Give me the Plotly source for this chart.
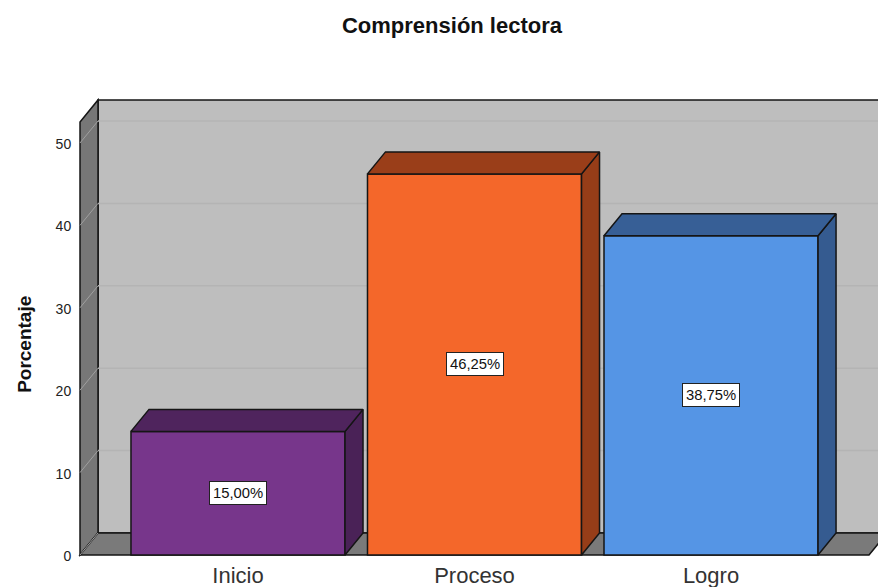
import plotly.graph_objects as go

categories = ["Inicio", "Proceso", "Logro"]
values = [15.00, 46.25, 38.75]
y_ticks = [0, 10, 20, 30, 40, 50]
front_colors = ["#77368B", "#F4672A", "#5595E5"]
side_colors = ["#4A2257", "#963D18", "#355B90"]
top_colors = ["#4F245D", "#9A3E19", "#375F96"]

positions = [0, 1, 2]
BAR_W = 0.905
DX = 18 / 236.5     # depth of the 3D box in x units
DY = 22 / 8.24      # depth of the 3D box in y units
X0, X1 = -0.668, 2.668
Y_TOP = 52.55
EDGE = "#151515"


def path(points):
    return "M " + " L ".join(f"{x},{y}" for x, y in points) + " Z"


shapes = [
    # back wall
    dict(type="path", path=path([(X0 + DX, DY), (X1 + DX + 1, DY), (X1 + DX + 1, Y_TOP + DY), (X0 + DX, Y_TOP + DY)]),
         fillcolor="#BEBEBE", line=dict(color=EDGE, width=1.5), layer="below"),
    # left wall
    dict(type="path", path=path([(X0, 0), (X0 + DX, DY), (X0 + DX, Y_TOP + DY), (X0, Y_TOP)]),
         fillcolor="#777777", line=dict(color=EDGE, width=1.5), layer="below"),
    # floor
    dict(type="path", path=path([(X0, 0), (X1, 0), (X1 + DX, DY), (X0 + DX, DY)]),
         fillcolor="#7A7A7A", line=dict(color=EDGE, width=1.5), layer="below"),
]
for t in y_ticks[1:]:
    shapes.append(dict(type="line", x0=X0 + DX, x1=X1 + DX + 1, y0=t + DY, y1=t + DY,
                       line=dict(color="#B4B4B4", width=1.5), layer="below"))
for t in y_ticks[:]:
    shapes.append(dict(type="line", x0=X0, x1=X0 + DX, y0=t, y1=t + DY,
                       line=dict(color="#A0A0A0", width=1), layer="below"))

fig = go.Figure()
fig.add_trace(go.Bar(
    x=positions, y=values, width=BAR_W,
    marker=dict(color=front_colors, line=dict(color=EDGE, width=1.5)),
    showlegend=False, hoverinfo="skip",
))

for p, v, side, top in zip(positions, values, side_colors, top_colors):
    l, r = p - BAR_W / 2, p + BAR_W / 2
    fig.add_trace(go.Scatter(
        x=[r, r + DX, r + DX, r, r], y=[0, DY, v + DY, v, 0],
        mode="lines", fill="toself", fillcolor=side,
        line=dict(color=EDGE, width=1.5), showlegend=False, hoverinfo="skip",
    ))
    fig.add_trace(go.Scatter(
        x=[l, r, r + DX, l + DX, l], y=[v, v, v + DY, v + DY, v],
        mode="lines", fill="toself", fillcolor=top,
        line=dict(color=EDGE, width=1.5), showlegend=False, hoverinfo="skip",
    ))

annotations = [
    dict(x=p, y=v / 2, text=f"{v:.2f}%".replace(".", ","), showarrow=False,
         font=dict(family="Liberation Sans", size=14.8, color="#111111"),
         bgcolor="#FFFFFF", bordercolor="#222222", borderwidth=1, borderpad=3)
    for p, v in zip(positions, values)
]
annotations.append(dict(
    xref="paper", x=(25 - 78) / 800, xanchor="center", y=25.5, text="<b>Porcentaje</b>", textangle=-90,
    showarrow=False, font=dict(family="Liberation Sans", size=19, color="#111111"),
))

fig.update_layout(
    width=878, height=587,
    margin=dict(l=78, r=0, t=90, b=27),
    paper_bgcolor="#FFFFFF", plot_bgcolor="#FFFFFF",
    title=dict(text="<b>Comprensión lectora</b>", x=452 / 878, xanchor="center",
               y=1 - 25 / 587, yanchor="middle",
               font=dict(family="Liberation Sans", size=22, color="#111111")),
    xaxis=dict(range=[-0.6765, 2.706], tickmode="array", tickvals=positions, ticktext=categories,
               showgrid=False, zeroline=False, showline=False, ticks="",
               tickfont=dict(family="Liberation Sans", size=22, color="#333333")),
    yaxis=dict(range=[-0.607, 56.43], tickmode="array", tickvals=y_ticks, showgrid=False,
               zeroline=False, showline=False, ticks="outside", ticklen=3, tickcolor="rgba(0,0,0,0)",
               ticklabelshift=1,
               tickfont=dict(family="Liberation Sans", size=14, color="#222222")),
    shapes=shapes, annotations=annotations,
)

fig.write_html("out.html", config={"displayModeBar": False},
               post_script="document.body.style.margin='0';document.documentElement.style.overflow='hidden';")
